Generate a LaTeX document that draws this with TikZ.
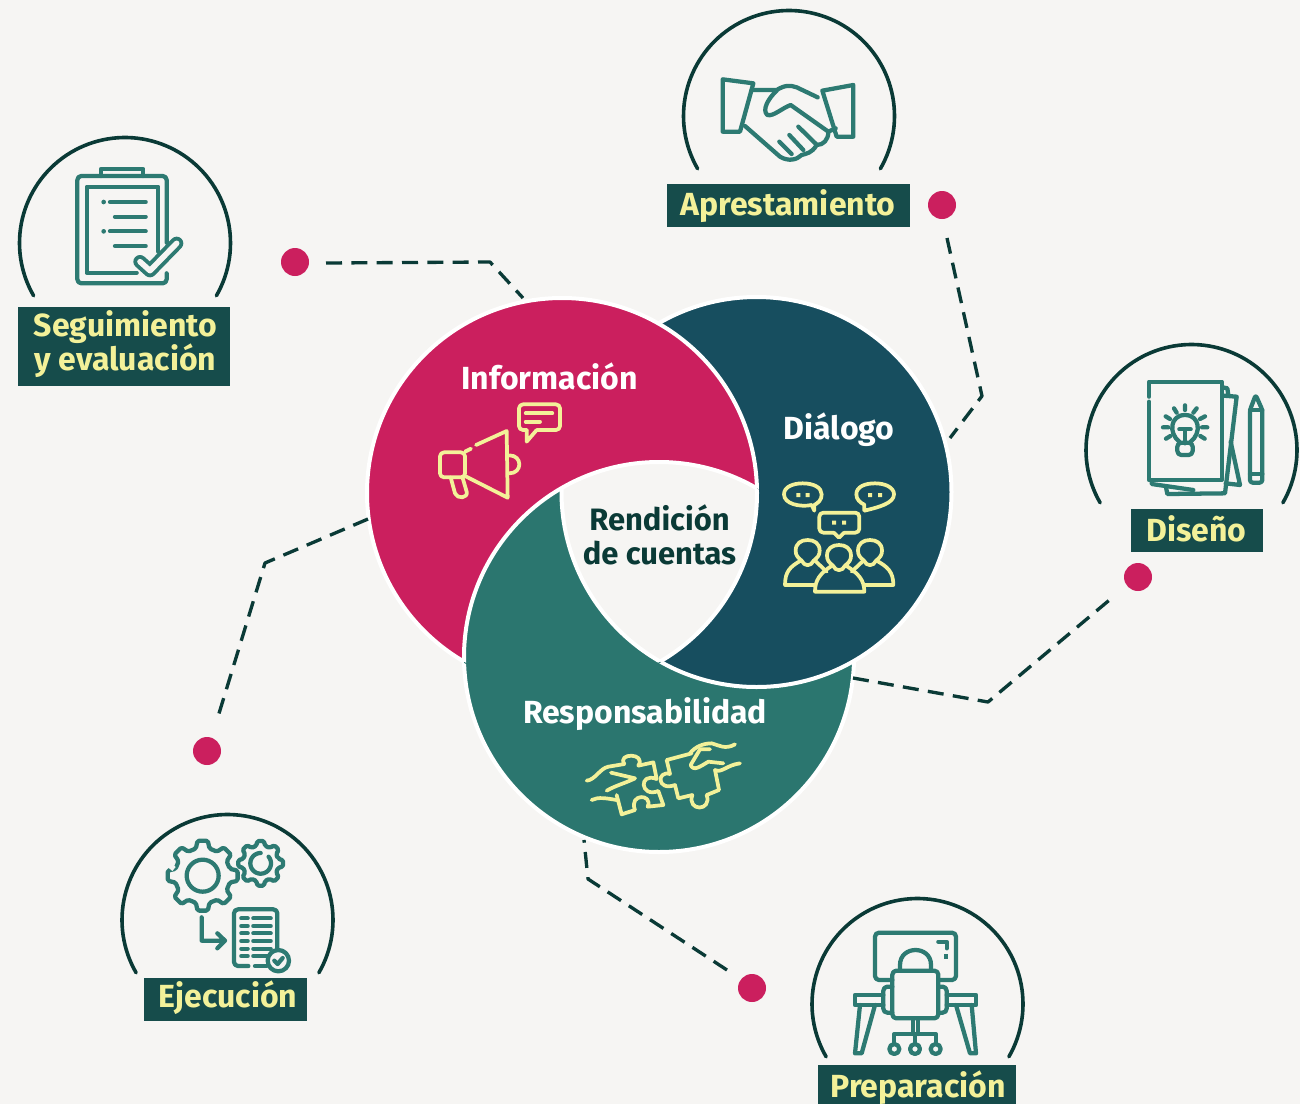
\documentclass[tikz,border=0pt]{standalone}
\usepackage{fontspec}
\setmainfont{Fira Sans}
\definecolor{bgc}{HTML}{F6F5F3}
\definecolor{redc}{HTML}{CB1F5E}
\definecolor{bluec}{HTML}{174E5F}
\definecolor{tealc}{HTML}{2B766F}
\definecolor{boxc}{HTML}{164C4B}
\definecolor{yelc}{HTML}{F3F199}
\definecolor{darkc}{HTML}{0A3A36}
\definecolor{icoc}{HTML}{2D7A72}
\tikzset{
  iconat/.style={shift={#1},x=.25pt,y=-.25pt},
  tic/.style={draw=icoc,line width=3.2pt,line cap=round,line join=round},
  yic/.style={draw=yelc,line width=2.8pt,line cap=round,line join=round},
  halfarc/.style={draw=darkc,line width=2.7pt,line cap=round},
  labelbox/.style={fill=boxc,draw=none},
  labeltxt/.style={text=yelc,font=\fontsize{24}{24}\selectfont\bfseries,anchor=base,inner sep=0pt},
  venntxt/.style={text=white,font=\fontsize{24}{24}\selectfont\bfseries,anchor=base,inner sep=0pt},
  centertxt/.style={text=darkc,font=\fontsize{23.2}{24}\selectfont\bfseries,anchor=base,inner sep=0pt},
  reddot/.style={circle,fill=redc,draw=none,minimum size=21pt,inner sep=0pt},
  conn/.style={draw=darkc,line width=2.5pt,dash pattern=on 12pt off 7pt},
  ring/.style={draw=white,line width=3pt},
}
\newcommand{\gearshape}[5]{%
  \draw[tic,rounded corners=1.2pt] ({#1+#4*cos(-#5)},{#2+#4*sin(-#5)})
  \foreach \i in {0,...,7}{
    -- ({#1+#3*cos(\i*45-#5*.6)},{#2+#3*sin(\i*45-#5*.6)})
    -- ({#1+#3*cos(\i*45+#5*.6)},{#2+#3*sin(\i*45+#5*.6)})
    -- ({#1+#4*cos(\i*45+#5)},{#2+#4*sin(\i*45+#5)})
    -- ({#1+#4*cos(\i*45+45-#5)},{#2+#4*sin(\i*45+45-#5)})
  } -- cycle;}
\newcommand{\personshape}[2]{%
  \begin{scope}[shift={(#1,#2)}]
  \draw[yic] (-18,62) .. controls (-30,52) and (-36,46) .. (-36,32)
     .. controls (-36,10) and (-20,0) .. (0,0)
     .. controls (20,0) and (36,10) .. (36,32)
     .. controls (36,46) and (30,52) .. (18,62)
     .. controls (10,80) and (-10,80) .. (-18,62);
  \end{scope}}
\begin{document}
\begin{tikzpicture}[x=.75pt,y=-.75pt,line join=round]
\useasboundingbox (0,0) rectangle (1300,1104);
\fill[bgc] (0,0) rectangle (1300,1104);

% Venn
\coordinate (cr) at (562,493);
\coordinate (cb) at (756.5,492);
\coordinate (ct) at (659,657);
\def\vr{195}
\path[fill=tealc,ring] (ct) circle [radius=\vr];
\path[fill=bluec,ring] (cb) circle [radius=\vr];
\fill[redc] (cr) circle [radius=\vr];
\begin{scope}[even odd rule]
  \clip (0,0) rectangle (1300,1104) (ct) circle [radius=\vr];
  \draw[ring] (cr) circle [radius=\vr];
\end{scope}
\begin{scope}
  \clip (cr) circle [radius=\vr+1];
  \fill[tealc] (ct) circle [radius=\vr];
\end{scope}
\begin{scope}
  \clip (cr) circle [radius=\vr];
  \clip (cb) circle [radius=\vr];
  \fill[bgc] (ct) circle [radius=\vr];
\end{scope}
\begin{scope}
  \clip (cr) circle [radius=\vr];
  \draw[ring] (ct) circle [radius=\vr];
\end{scope}
\begin{scope}
  \clip (ct) circle [radius=\vr];
  \clip (cb) circle [radius=\vr];
  \draw[ring] (cr) circle [radius=\vr];
\end{scope}
\begin{scope}
  \clip (cr) circle [radius=\vr];
  \clip (ct) circle [radius=\vr];
  \draw[ring] (cb) circle [radius=\vr];
\end{scope}

\node[venntxt] (tinfo) at (549.5,389.5) {Información};
\node[venntxt] (tdial) at (839,439) {Diálogo};
\node[venntxt] (tresp) at (645,723) {Responsabilidad};
\node[centertxt] (trend) at (659.5,530.5) {Rendición};
\node[centertxt] (tcuen) at (659.5,564.5) {de cuentas};

% half circles
\draw[halfarc] plot[domain=150:390,samples=90] ({125+105.5*cos(\x)},{243+105.5*sin(\x)});
\draw[halfarc] plot[domain=150:390,samples=90] ({789+105.5*cos(\x)},{116+105.5*sin(\x)});
\draw[halfarc] plot[domain=150:390,samples=90] ({1191.5+105.5*cos(\x)},{450+105.5*sin(\x)});
\draw[halfarc] plot[domain=150:390,samples=90] ({227.5+105.5*cos(\x)},{920+105.5*sin(\x)});
\draw[halfarc] plot[domain=150:390,samples=90] ({917.5+105.5*cos(\x)},{1004+105.5*sin(\x)});

% label boxes
\fill[labelbox] (18,307) rectangle (230,386);
\fill[labelbox] (667,184) rectangle (910,227);
\fill[labelbox] (1131,509) rectangle (1263,552);
\fill[labelbox] (144,978) rectangle (307,1021);
\fill[labelbox] (818,1065) rectangle (1016,1104);
\node[labeltxt] (lseg) at (125.5,336.5) {Seguimiento};
\node[labeltxt] (leva) at (125.5,370.5) {y evaluación};
\node[labeltxt] (lapr) at (788,215.5) {Aprestamiento};
\node[labeltxt] (ldis) at (1196.5,541) {Diseño};
\node[labeltxt] (leje) at (228,1007) {Ejecución};
\node[labeltxt] (lpre) at (918,1097) {Preparación};

% dots
\node[reddot] (d1) at (295,262) {};
\node[reddot] (d2) at (942,205) {};
\node[reddot] (d3) at (1138,577) {};
\node[reddot] (d4) at (207,751) {};
\node[reddot] (d5) at (752,988) {};

% connectors
\coordinate (c1a) at (326,263); \coordinate (c1b) at (490,262); \coordinate (c1c) at (523,298);
\coordinate (c2a) at (947,238); \coordinate (c2b) at (982,396); \coordinate (c2c) at (950,438);
\coordinate (c3a) at (1113,597); \coordinate (c3b) at (988,702); \coordinate (c3c) at (853,678);
\coordinate (c4a) at (217,720); \coordinate (c4b) at (265,563); \coordinate (c4c) at (368,519);
\coordinate (c5a) at (727,970); \coordinate (c5b) at (588,879); \coordinate (c5c) at (584,840);
\draw[conn] (c1a) -- (c1b) -- (c1c);
\draw[conn] (c2a) -- (c2b) -- (c2c);
\draw[conn] (c3c) -- (c3b) -- (c3a);
\draw[conn] (c4c) -- (c4b) -- (c4a);
\draw[conn] (c5a) -- (c5b) -- (c5c);

% clipboard
\begin{scope}[iconat={(0,120)}]
\draw[tic] (303,168) -- (303,147) -- (430,147) -- (430,168);
\draw[tic,rounded corners=3pt] (500,368) -- (500,168) -- (232,168) -- (232,490) -- (500,490) -- (500,460);
\draw[tic] (475,395) -- (475,200) -- (260,200) -- (260,458) -- (410,458);
\draw[tic] (330,246) -- (437,246) (345,290) -- (437,290) (330,334) -- (437,334) (345,378) -- (437,378);
\fill[icoc] (311,246) circle [radius=7] (311,334) circle [radius=7];
\draw[icoc,line width=10pt,line cap=round] (420,425) -- (450,452) -- (530,370);
\draw[bgc,line width=4.2pt,line cap=round] (420,425) -- (450,452) -- (530,370);
\end{scope}

% handshake
\begin{scope}[iconat={(660,0)}]
\draw[tic] (188,238) -- (280,250) -- (240,395) -- (188,395) -- cycle;
\draw[tic] (580,255) -- (487,272) -- (530,410) -- (580,410) -- cycle;
\draw[tic] (275,270) -- (350,270) .. controls (375,255) and (390,255) .. (410,262) -- (473,292);
\draw[tic] (350,272) .. controls (325,295) and (305,330) .. (322,345) .. controls (340,350) and (365,325) .. (392,315)
   -- (505,395) .. controls (505,420) and (490,435) .. (470,435) .. controls (455,460) and (440,460) .. (425,465)
   .. controls (410,480) and (385,485) .. (360,470) -- (255,378);
\draw[tic] (505,395) -- (527,385);
\draw[tic] (415,380) -- (468,432);
\draw[tic] (388,405) -- (430,450);
\draw[tic] (358,425) -- (395,462);
\end{scope}

% ideas
\begin{scope}[iconat={(1070,330)}]
\draw[tic] (237,200) -- (237,155) -- (455,155) -- (455,450) -- (237,450) -- (237,215);
\draw[tic] (458,172) -- (472,175) -- (475,195);
\draw[tic] (460,197) -- (500,200) -- (465,490) -- (292,492) -- (288,472);
\draw[tic] (482,335) -- (510,465) -- (467,460);
\draw[tic] (245,452) -- (245,462) -- (370,480);
\draw[tic] (328,298) -- (362,298) (345,298) -- (345,340);
\draw[tic] (328,335) .. controls (295,310) and (300,255) .. (345,255) .. controls (390,255) and (395,310) .. (362,335);
\draw[tic,rounded corners=3pt] (322,338) -- (322,375) -- (368,375) -- (368,338) -- cycle;
\draw[tic] (345,226) -- (345,240) (312,235) -- (320,248) (380,235) -- (370,248) (287,259) -- (300,267)
   (405,259) -- (390,267) (279,292) -- (295,292) (396,292) -- (412,292) (288,326) -- (301,318) (404,326) -- (391,318);
\draw[tic,rounded corners=2pt] (540,240) -- (557,195) -- (577,240) -- (577,458) -- (540,458) -- cycle;
\draw[tic] (540,240) -- (577,240) (540,432) -- (577,432);
\end{scope}

% gears
\begin{scope}[iconat={(110,800)}]
\gearshape{278}{227}{106}{84}{14}
\gearshape{452}{190}{68}{54}{14}
\draw[bgc,line width=4.6pt] (190,195) -- (180,207);
\draw[tic] (278,227) circle [radius=48];
\draw[tic] plot[domain=-40:270,samples=40] ({452+31*cos(\x)},{190+31*sin(\x)});
\draw[tic] (275,352) -- (275,422) -- (345,422) (322,400) -- (345,422) -- (322,445);
\draw[tic,rounded corners=3pt] (502,450) -- (502,328) -- (372,328) -- (372,498) -- (415,498);
\draw[tic] (435,498) -- (470,498);
\foreach \yy in {355,378,400,423,446,468}{\draw[tic] (394,\yy) -- (413,\yy) (430,\yy) -- (482,\yy);}
\fill[bgc] (505,482) circle [radius=32];
\draw[tic] (505,482) circle [radius=32];
\draw[tic] (493,482) -- (503,492) -- (518,474);
\end{scope}

% desk
\begin{scope}[iconat={(800,890)}]
\draw[tic,rounded corners=3pt] (277,270) -- (225,270) -- (225,128) -- (468,128) -- (468,270) -- (415,270);
\draw[tic] (415,155) -- (440,155) -- (440,175);
\fill[icoc] (432,192) rectangle (444,206);
\draw[tic] (300,240) -- (300,225) .. controls (300,165) and (393,165) .. (393,225) -- (393,240);
\draw[tic,rounded corners=3pt] (277,242) rectangle (415,385);
\draw[tic,rounded corners=3pt] (277,290) -- (250,290) -- (250,368) -- (277,368);
\draw[tic,rounded corners=3pt] (415,290) -- (440,290) -- (440,368) -- (415,368);
\draw[tic] (250,315) -- (165,315) -- (165,345) -- (250,345);
\draw[tic] (440,315) -- (528,315) -- (528,345) -- (440,345);
\draw[tic] (180,345) -- (165,490) -- (185,490) -- (225,345);
\draw[tic] (468,345) -- (510,490) -- (528,490) -- (515,345);
\draw[tic] (338,385) -- (338,432) (355,385) -- (355,432);
\draw[tic] (283,462) -- (283,432) -- (407,432) -- (407,462) (345,432) -- (345,462);
\draw[tic] (283,477) circle [radius=15] (345,477) circle [radius=15] (407,477) circle [radius=15];
\end{scope}

% megaphone
\begin{scope}[iconat={(420,390)}]
\draw[yic] (168,165) -- (260,123) -- (263,323) -- (135,258);
\draw[yic] (135,185) -- (153,176);
\draw[yic,rounded corners=3pt] (60,187) rectangle (135,262);
\draw[yic] (92,262) -- (105,310) .. controls (112,328) and (145,325) .. (140,305) -- (128,264);
\draw[yic] (268,196) .. controls (308,196) and (308,250) .. (268,250);
\draw[yic,rounded corners=3pt] (320,120) -- (297,120) -- (297,43) -- (420,43) -- (420,120) -- (350,120);
\draw[yic] (320,120) -- (320,155) -- (350,120);
\draw[yic] (317,70) -- (397,70) (317,95) -- (360,95);
\end{scope}

% people
\begin{scope}[iconat={(770,470)}]
\draw[yic] (125,105) .. controls (90,112) and (42,102) .. (42,73) .. controls (42,50) and (70,40) .. (98,40) .. controls (130,40) and (155,52) .. (155,73) .. controls (155,90) and (145,98) .. (133,105) -- (133,122) -- cycle;
\draw[yic] (283,122) -- (283,104) .. controls (270,98) and (259,88) .. (259,73) .. controls (259,50) and (285,40) .. (315,40) .. controls (345,40) and (372,52) .. (372,73) .. controls (372,100) and (325,112) .. (283,122);
\draw[yic,rounded corners=3pt] (192,188) -- (148,188) -- (148,128) -- (268,128) -- (268,188) -- (222,188);
\draw[yic] (192,188) -- (207,203) -- (222,188);
\fill[yelc] (79,69) rectangle (91,81) (107,69) rectangle (119,81) (294,69) rectangle (306,81) (324,69) rectangle (336,81) (186,152) rectangle (198,164) (216,152) rectangle (228,164);
\personshape{113}{210}
\personshape{300}{210}
\personshape{207}{225}
\draw[yic] (92,272) .. controls (60,290) and (45,305) .. (45,345) -- (135,345);
\draw[yic] (135,272) -- (170,305);
\draw[yic] (320,272) .. controls (352,290) and (370,305) .. (370,345) -- (283,345);
\draw[yic] (280,272) -- (245,305);
\draw[yic] (186,287) .. controls (150,310) and (135,330) .. (135,365) -- (283,365) .. controls (283,330) and (265,310) .. (228,287);
\end{scope}

% puzzle and hands
\begin{scope}[iconat={(575,730)}]
\draw[yic] (125,195) -- (140,253) -- (180,240) .. controls (160,190) and (235,190) .. (218,230) -- (265,225) -- (250,183) .. controls (195,205) and (190,125) .. (245,147) -- (235,97) -- (190,107) .. controls (215,68) and (125,68) .. (148,102);
\draw[yic] (35,152) .. controls (60,150) and (75,115) .. (100,110) -- (148,102);
\draw[yic] (108,128) -- (180,145) .. controls (150,160) and (125,165) .. (95,182);
\draw[yic] (50,210) .. controls (70,200) and (95,205) .. (125,210);
\draw[yic] (350,70) -- (275,90) -- (285,132) .. controls (245,120) and (245,185) .. (300,165) -- (310,205) -- (352,195) .. controls (335,245) and (412,245) .. (395,195) -- (432,180) -- (420,120);
\draw[yic] (345,70) .. controls (360,50) and (385,40) .. (410,40) .. controls (430,45) and (450,60) .. (480,43);
\draw[yic] (405,58) -- (375,58) -- (347,105) .. controls (355,125) and (375,110) .. (400,95) -- (445,100);
\draw[yic] (420,120) .. controls (440,130) and (455,105) .. (495,100);
\end{scope}
\end{tikzpicture}
\end{document}
